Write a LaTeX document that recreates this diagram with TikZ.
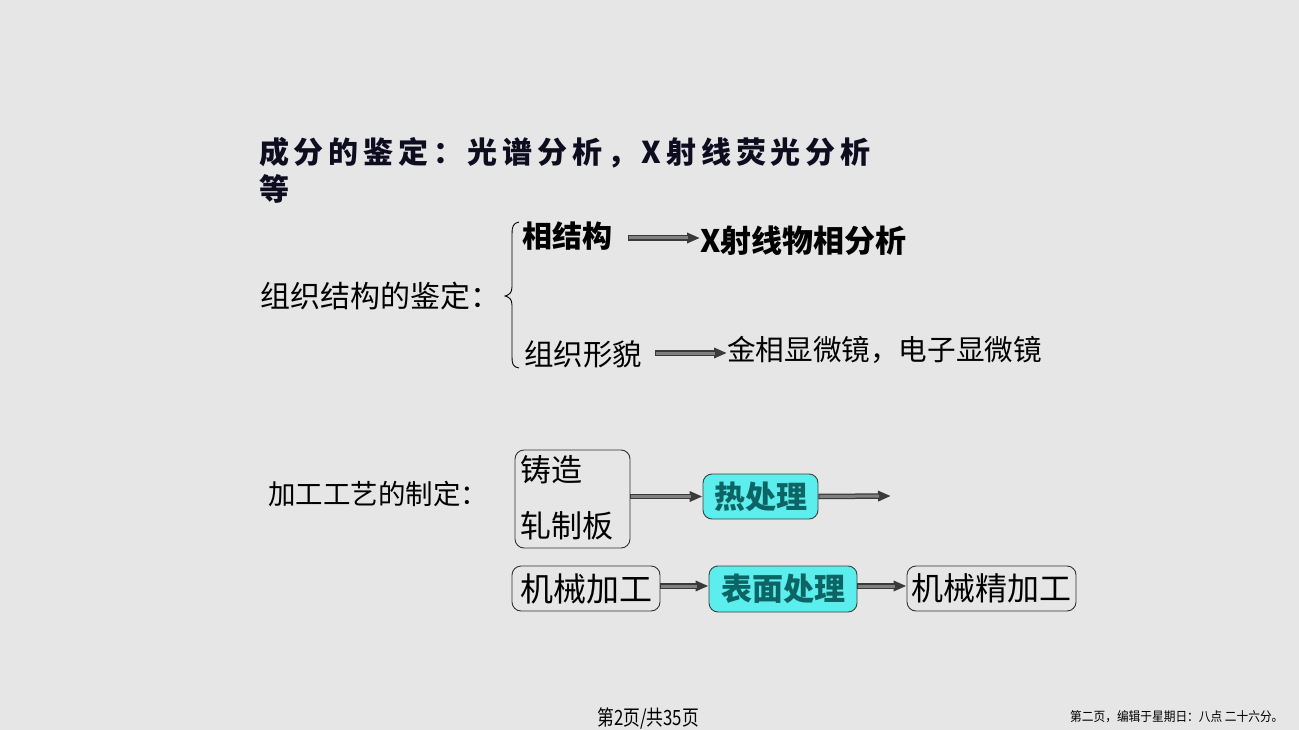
\documentclass[tikz,border=0pt]{standalone}
\usepackage{fontspec}
\setmainfont{Noto Sans CJK SC}
\usetikzlibrary{arrows.meta}
\definecolor{bg}{HTML}{E6E6E6}
\definecolor{titlec}{HTML}{0D0D1F}
\definecolor{cyanf}{HTML}{5CEDED}
\definecolor{tealt}{HTML}{0C6464}
\definecolor{arrc}{HTML}{3A3A3A}
\definecolor{arrf}{HTML}{808080}
\begin{document}
\begin{tikzpicture}[x=1pt,y=-1pt,
  txt/.style={inner sep=0pt, anchor=west, text=black},
  rbox/.style={draw=black!80, line width=0.9pt, rounded corners=9pt, inner sep=0pt},
  cbox/.style={rbox, fill=cyanf, draw=black!75},
  arr/.style={draw=arrc, line width=5.5pt, -{Triangle[length=13pt,width=10pt]},
     postaction={draw=arrf, line width=3pt, shorten >=12pt, shorten <=1pt, arrows=-}},
]
\fill[bg] (0,0) rectangle (1299,730);
\useasboundingbox (0,0) rectangle (1299,730);

% title
\node[txt, text=titlec, font=\fontsize{30}{36}\selectfont\bfseries\addfontfeature{LetterSpace=16}] (t1) at (259,153) {成分的鉴定：光谱分析，X射线荧光分析};
\node[txt, text=titlec, font=\fontsize{30}{36}\selectfont\bfseries] (t2) at (259,189) {等};

% structure
\node[txt, font=\fontsize{30}{35}\selectfont] (zz) at (260,296) {组织结构的鉴定：};
\draw[line width=0.9pt] (519,222) .. controls (513,223) and (512,227) .. (512,234)
  -- (512,287) .. controls (512,293) and (509,295) .. (505,296)
  .. controls (509,297) and (512,299) .. (512,305)
  -- (512,357) .. controls (512,364) and (513,367) .. (519,368);
\node[txt, font=\fontsize{30}{36}\selectfont\bfseries] (xjg) at (522,236) {相结构};
\node[txt, font=\fontsize{31}{36}\selectfont\bfseries] (xsx) at (700,241) {X射线物相分析};
\node[txt, font=\fontsize{29.5}{34}\selectfont] (zzxm) at (524,354) {组织形貌};
\node[txt, font=\fontsize{28.6}{34}\selectfont] (jx) at (727,350) {金相显微镜，电子显微镜};
\coordinate (a1s) at (628,238);
\coordinate (a2s) at (655,353);
\draw[arr] (a1s) -- (xsx.west |- a1s);
\draw[arr] (a2s) -- (jx.west |- a2s);

% process
\node[txt, font=\fontsize{27.5}{32}\selectfont] (jg) at (268,494) {加工工艺的制定：};
\node[rbox, minimum width=115pt, minimum height=98pt] (zzb) at (572.5,499) {};
\node[txt, font=\fontsize{31}{36}\selectfont] (zzt) at (520,470) {铸造};
\node[txt, font=\fontsize{31}{36}\selectfont] (zbt) at (520,526) {轧制板};
\node[cbox, minimum width=115pt, minimum height=45pt, text=tealt, font=\fontsize{31}{36}\selectfont\bfseries] (rcl) at (760.5,496.5) {热处理};
\coordinate (rend) at (891,496);
\draw[arr] (zzb.east |- rcl) -- (rcl.west);
\draw[arr] (rcl.east) -- (rend);

\node[rbox, minimum width=148pt, minimum height=45pt, font=\fontsize{33}{38}\selectfont] (jxjg) at (586,588.5) {机械加工};
\node[cbox, minimum width=148pt, minimum height=46pt, text=tealt, font=\fontsize{31}{36}\selectfont\bfseries] (bmcl) at (783,589) {表面处理};
\node[rbox, minimum width=169pt, minimum height=45pt, font=\fontsize{32}{37}\selectfont] (jxjjg) at (991.5,588.5) {机械精加工};
\draw[arr] (jxjg.east |- 0,586) -- (bmcl.west |- 0,586);
\draw[arr] (bmcl.east |- 0,586) -- (jxjjg.west |- 0,586);

% footer
\node[txt, font=\fontsize{21}{24}\selectfont] (pg) at (597,719) {\scalebox{0.8}[1]{第2页/共35页}};
\node[txt, font=\fontsize{13}{15}\selectfont] (ed) at (1070,717) {\scalebox{0.9}[1]{第二页，编辑于星期日：八点 二十六分。}};
\end{tikzpicture}
\end{document}
